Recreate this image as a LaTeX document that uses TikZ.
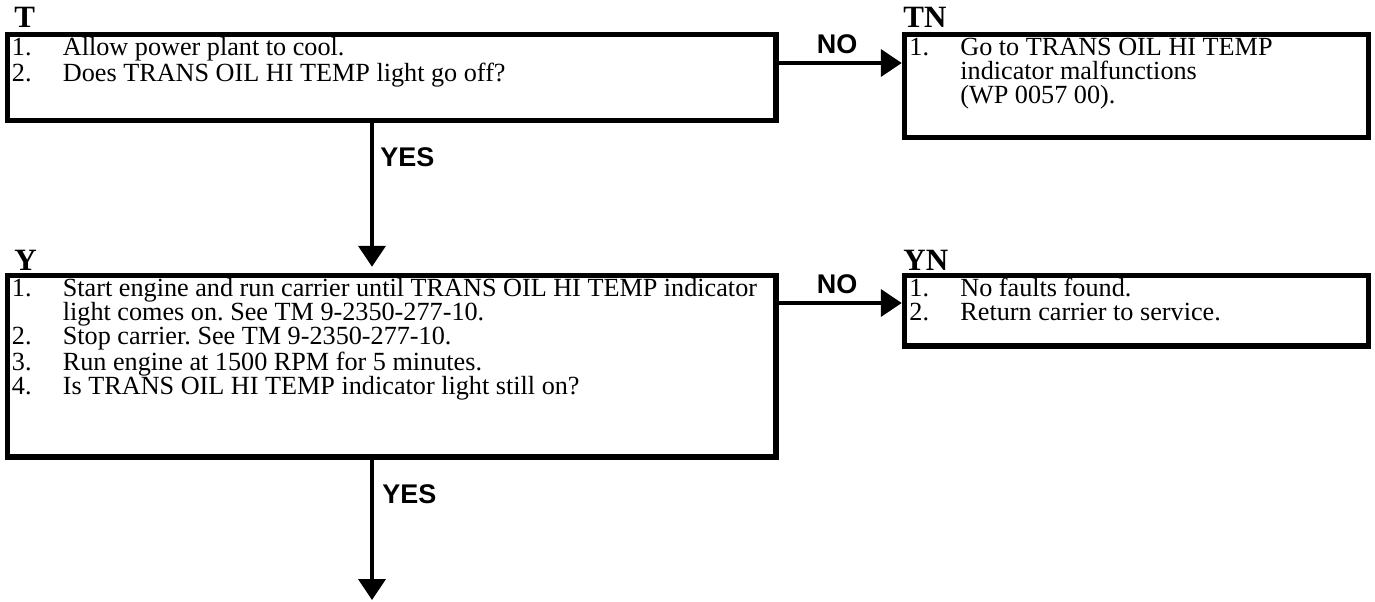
\documentclass[tikz,border=0pt]{standalone}
\usepackage{fontspec}
\setmainfont{Liberation Serif}
\newfontfamily\labelsans{Liberation Sans}
\usetikzlibrary{arrows.meta}
\def\u{0.5pt}
\tikzset{
  stepbox/.style={draw=black, line width=2.75pt, rectangle, inner sep=0pt, fill=white},
  steptext/.style={anchor=base west, inner sep=0pt, text width=460pt, align=flush left,
    font=\fontsize{13.1}{12}\selectfont},
  header/.style={anchor=base west, inner sep=0pt, font=\fontsize{15.5}{16}\selectfont\bfseries},
  answer/.style={inner sep=0pt, font=\fontsize{13.5}{14}\selectfont\labelsans\bfseries},
  flow/.style={line width=2pt, -{Triangle[length=10.5pt,width=13.5pt]}}
}
% numbered item and continuation line inside a step box
\newcommand{\itm}[1]{\makebox[25.5pt][l]{#1}}
\newcommand{\cnt}{\hspace*{25.5pt}}
\begin{document}
% keep every text line exactly one baselineskip apart, single space after periods
\lineskiplimit=-20pt
\frenchspacing
\begin{tikzpicture}[x=0.5pt, y=-0.5pt]
  \useasboundingbox (0,0) rectangle (1375,601);

  % boxes
  \node[stepbox, minimum width=768.5*\u, minimum height=86*\u]    (T)  at (391.75,77.5) {};
  \node[stepbox, minimum width=464*\u,   minimum height=103*\u]   (TN) at (1136.5,86) {};
  \node[stepbox, minimum width=768.5*\u, minimum height=181.5*\u] (Y)  at (391.75,366.25) {};
  \node[stepbox, minimum width=464*\u,   minimum height=70.5*\u]  (YN) at (1136.5,310.75) {};

  % box headers
  \node[header] (hT)  at (14,27)   {T};
  \node[header] (hTN) at (903,27)  {TN};
  \node[header] (hY)  at (14,270)  {Y};
  \node[header] (hYN) at (903,270) {YN};

  % box contents
  \node[steptext] (tT) at (11.5,55) {%
    \itm{1.}Allow power plant to cool.\\
    \itm{2.}Does TRANS OIL HI TEMP light go off?};
  \node[steptext] (tTN) at (909,55) {%
    \itm{1.}Go to TRANS OIL HI TEMP\\
    \cnt indicator malfunctions\\
    \cnt (WP 0057 00).};
  \node[steptext] (tY) at (11.5,296) {%
    \itm{1.}Start engine and run carrier until TRANS OIL HI TEMP indicator\\
    \cnt light comes on. See TM 9-2350-277-10.\\
    \itm{2.}Stop carrier. See TM 9-2350-277-10.\\
    \itm{3.}Run engine at 1500 RPM for 5 minutes.\\
    \itm{4.}Is TRANS OIL HI TEMP indicator light still on?};
  \node[steptext] (tYN) at (909,296) {%
    \itm{1.}No faults found.\\
    \itm{2.}Return carrier to service.};

  % connector guide points
  \coordinate (axis) at (372,0);
  \coordinate (rowT) at (0,63);
  \coordinate (rowY) at (0,303);
  \coordinate (out)  at (372,600);

  % connectors
  \draw[flow] (T.east |- rowT) -- (TN.west |- rowT);
  \draw[flow] (Y.east |- rowY) -- (YN.west |- rowY);
  \draw[flow] (T.south -| axis) -- ([yshift=3pt]Y.north -| axis);
  \draw[flow] (Y.south -| axis) -- (out);

  % connector labels
  \node[answer] (noT)  at (837,44)  {NO};
  \node[answer] (noY)  at (837,284) {NO};
  \node[answer, anchor=west] (yesT) at (380,157.5) {YES};
  \node[answer, anchor=west] (yesY) at (382,494)   {YES};
\end{tikzpicture}
\end{document}
